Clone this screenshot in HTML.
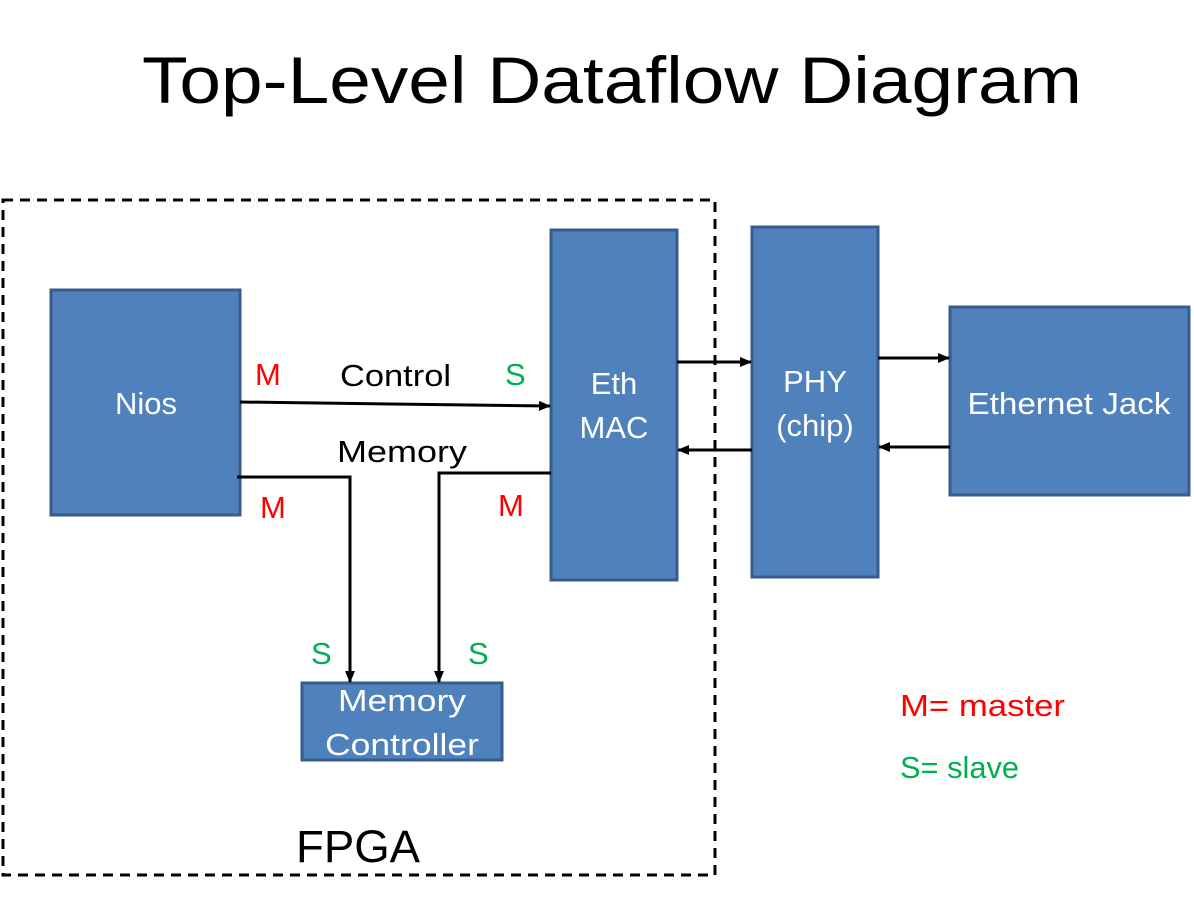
<!DOCTYPE html>
<html><head><style>body{margin:0;background:#fff}svg{display:block}text{font-family:"Liberation Sans",sans-serif}</style></head><body>
<svg width="1194" height="914" viewBox="0 0 1194 914" xmlns="http://www.w3.org/2000/svg">
<defs><marker id="a" markerWidth="12" markerHeight="10" refX="11" refY="5" orient="auto" markerUnits="userSpaceOnUse"><path d="M0,0 L12,5 L0,10 z" fill="#000"/></marker></defs>
<text x="612" y="103" font-size="66" text-anchor="middle" textLength="940" lengthAdjust="spacingAndGlyphs">Top-Level Dataflow Diagram</text>
<rect x="3" y="200" width="712" height="675" fill="none" stroke="#000" stroke-width="3" stroke-dasharray="10,7"/>
<g fill="#4F81BD" stroke="#385D8A" stroke-width="3">
<rect x="51" y="290" width="189" height="225"/>
<rect x="551" y="230" width="126" height="350"/>
<rect x="752" y="227" width="126" height="350"/>
<rect x="950" y="307" width="239" height="188"/>
<rect x="302" y="683" width="200" height="77"/>
</g>
<g fill="#fff" font-size="31" text-anchor="middle">
<text x="146" y="414">Nios</text>
<text x="614" y="394">Eth</text><text x="614" y="438">MAC</text>
<text x="815" y="392">PHY</text><text x="815" y="436">(chip)</text>
<text x="1069" y="414" textLength="203" lengthAdjust="spacingAndGlyphs">Ethernet Jack</text>
<text x="402" y="711" textLength="128" lengthAdjust="spacingAndGlyphs">Memory</text><text x="402" y="755" textLength="154" lengthAdjust="spacingAndGlyphs">Controller</text>
</g>
<g stroke="#000" stroke-width="3" fill="none">
<line x1="240" y1="402" x2="550" y2="406" marker-end="url(#a)"/>
<line x1="677" y1="362" x2="751" y2="362" marker-end="url(#a)"/>
<line x1="752" y1="450" x2="678" y2="450" marker-end="url(#a)"/>
<line x1="878" y1="358" x2="949" y2="358" marker-end="url(#a)"/>
<line x1="950" y1="447" x2="879" y2="447" marker-end="url(#a)"/>
<polyline points="237,477 350,477 350,682" marker-end="url(#a)"/>
<polyline points="551,473 439,473 439,682" marker-end="url(#a)"/>
</g>
<g font-size="31">
<text x="340" y="386" textLength="111" lengthAdjust="spacingAndGlyphs">Control</text>
<text x="337" y="462" textLength="130" lengthAdjust="spacingAndGlyphs">Memory</text>
<text x="296" y="862" font-size="45" textLength="124" lengthAdjust="spacingAndGlyphs">FPGA</text>
</g>
<g font-size="31" fill="#FF0000">
<text x="255" y="385">M</text><text x="260" y="518">M</text><text x="498" y="516">M</text>
<text x="900" y="716" textLength="165" lengthAdjust="spacingAndGlyphs">M= master</text>
</g>
<g font-size="31" fill="#00B050">
<text x="505" y="385">S</text><text x="311" y="664">S</text><text x="468" y="664">S</text>
<text x="900" y="778" textLength="119" lengthAdjust="spacingAndGlyphs">S= slave</text>
</g>
</svg>
</body></html>
